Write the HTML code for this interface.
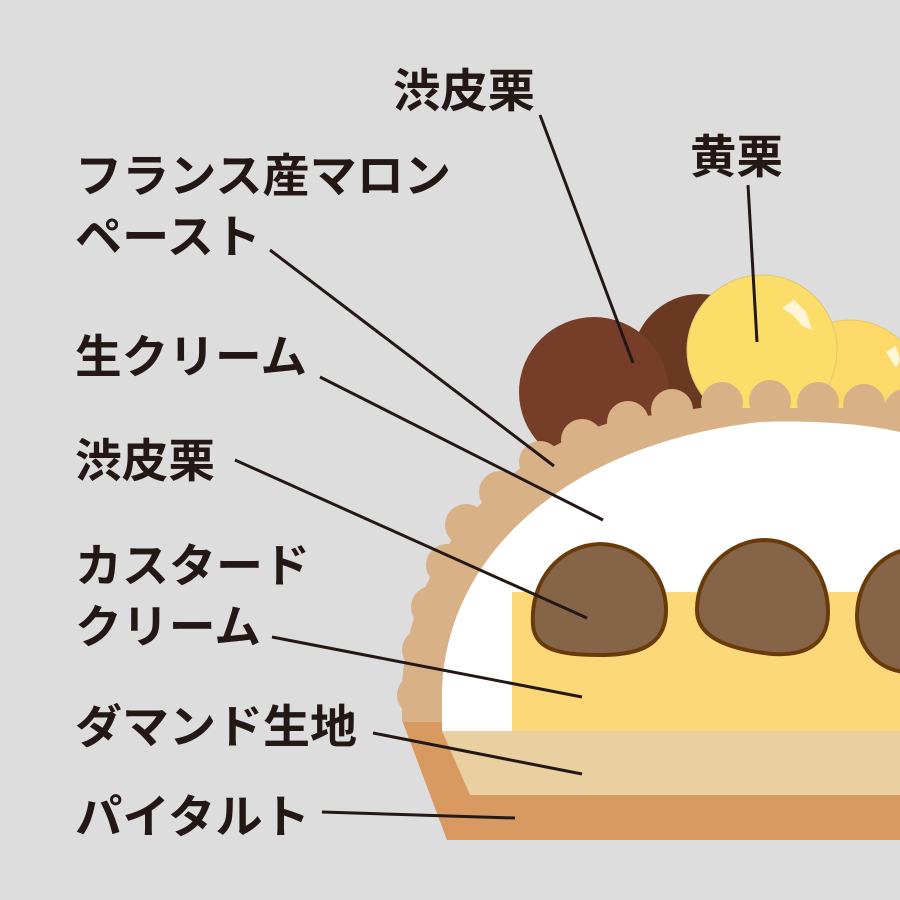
<!DOCTYPE html>
<html><head><meta charset="utf-8"><style>
html,body{margin:0;padding:0;background:#dddddd;}
svg{display:block}
text{font-family:"Liberation Sans","Noto Sans CJK JP",sans-serif;font-weight:bold;font-size:46px;fill:#231815}
</style></head><body>
<svg width="900" height="900" viewBox="0 0 900 900">
<rect width="900" height="900" fill="#dddddd"/>
<!-- marron glaces -->
<circle cx="700" cy="362" r="68" fill="#6b3822"/>
<circle cx="594" cy="392" r="75" fill="#763d28"/>
<circle cx="850" cy="392" r="72" fill="#fcd968" stroke="#e8c860" stroke-width="1"/>
<circle cx="762" cy="350" r="75" fill="#fddd6a" stroke="#e0c870" stroke-width="1"/>
<path d="M782,308 l12,-8 l12,12 l6,18 l-10,-4 l-8,-10 z" fill="#fff6d8"/>
<path d="M886,352 l10,-6 l4,14 l-4,8 z" fill="#fff6d8"/>
<!-- tart -->
<path d="M402,720 L900,720 L900,840 L447,840 Z" fill="#d89a60"/>
<!-- scallop border -->
<path d="M402,722 L402,690 C405,565 500,450 620,420 L700,408 L900,408 L900,722 Z" fill="#d9b187"/>
<g fill="#d9b187">
<circle cx="418" cy="695" r="21"/><circle cx="423" cy="650" r="21"/><circle cx="432" cy="607" r="21"/>
<circle cx="447" cy="565" r="21"/><circle cx="466" cy="525" r="21"/><circle cx="500" cy="492" r="21"/>
<circle cx="540" cy="462" r="21"/><circle cx="582" cy="440" r="21"/><circle cx="628" cy="422" r="21"/>
<circle cx="672" cy="410" r="21"/><circle cx="722" cy="403" r="21"/><circle cx="770" cy="401" r="21"/>
<circle cx="818" cy="403" r="21"/><circle cx="864" cy="405" r="21"/><circle cx="905" cy="410" r="21"/>
</g>
<!-- cream dome -->
<path d="M442,731 L442,690 C446,560 560,445 760,422 C820,420 870,425 900,432 L900,731 Z" fill="#ffffff"/>
<!-- custard -->
<rect x="512" y="592" width="388" height="139" fill="#fdd879"/>
<!-- chestnut halves -->
<g fill="#866447" stroke="#6a3b0a" stroke-width="4">
<path d="M533,625 C530,580 560,545 600,544 C640,545 666,575 666,610 C666,645 640,655 600,655 C560,655 535,650 533,625 Z"/>
<path d="M697,610 C697,570 730,540 765,540 C805,541 828,575 828,612 C828,645 805,656 772,654 C735,650 697,640 697,610 Z"/>
<path d="M857,615 C858,580 880,555 905,550 L905,672 C880,670 857,650 857,615 Z"/>
</g>
<!-- crust -->
<path d="M442,731 L900,731 L900,795 L470,795 Z" fill="#eacfa0"/>
<!-- lines -->
<g stroke="#231815" stroke-width="3" fill="none">
<line x1="540" y1="115" x2="633" y2="363"/>
<line x1="748" y1="185" x2="757" y2="342"/>
<line x1="270" y1="250" x2="554" y2="466"/>
<line x1="320" y1="377" x2="603" y2="520"/>
<line x1="235" y1="460" x2="587" y2="618"/>
<line x1="272" y1="637" x2="582" y2="697"/>
<line x1="373" y1="733" x2="582" y2="774"/>
<line x1="322" y1="812" x2="515" y2="818"/>
</g>
<!-- labels -->
<text x="393" y="107" textLength="142" lengthAdjust="spacingAndGlyphs">渋皮栗</text>
<text x="690" y="173" textLength="93" lengthAdjust="spacingAndGlyphs">黄栗</text>
<text x="75" y="192" textLength="376" lengthAdjust="spacingAndGlyphs">フランス産マロン</text>
<text x="75" y="253" textLength="186" lengthAdjust="spacingAndGlyphs">ペースト</text>
<text x="75" y="373" textLength="232" lengthAdjust="spacingAndGlyphs">生クリーム</text>
<text x="75" y="477" textLength="140" lengthAdjust="spacingAndGlyphs">渋皮栗</text>
<text x="75" y="582" textLength="235" lengthAdjust="spacingAndGlyphs">カスタード</text>
<text x="75" y="643" textLength="186" lengthAdjust="spacingAndGlyphs">クリーム</text>
<text x="75" y="743" textLength="282" lengthAdjust="spacingAndGlyphs">ダマンド生地</text>
<text x="75" y="833" textLength="235" lengthAdjust="spacingAndGlyphs">パイタルト</text>
</svg>
</body></html>
